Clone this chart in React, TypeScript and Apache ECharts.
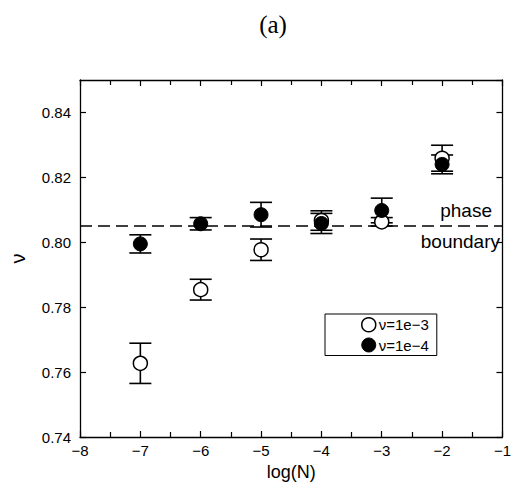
import React, { useEffect, useRef } from "react";
import * as echarts from "echarts";

const logN = [-7, -6, -5, -4, -3, -2];
const nuOpen = [0.7627, 0.7854, 0.7977, 0.8067, 0.8063, 0.8259];
const errOpen = [0.0062, 0.0032, 0.0033, 0.003, 0.0013, 0.004];
const nuFilled = [0.7995, 0.8057, 0.8085, 0.8058, 0.8098, 0.824];
const errFilled = [0.0028, 0.0019, 0.0038, 0.0031, 0.0038, 0.0029];
const boundaryX = [-8, -1];
const boundary = 0.805;
const seriesNames = ["ν=1e−3", "ν=1e−4"];

const FONT = "Liberation Sans, Arial, Helvetica, sans-serif";

function errorData(vals: number[], errs: number[]) {
  return logN.map((x, i) => [x, vals[i] - errs[i], vals[i] + errs[i]]);
}

function renderErr(params: any, api: any) {
  const x = api.value(0);
  const lo = api.coord([x, api.value(1)]);
  const hi = api.coord([x, api.value(2)]);
  const w = 11;
  const style = { stroke: "#000", lineWidth: 1.6, fill: "none" };
  return {
    type: "group",
    children: [
      { type: "line", shape: { x1: hi[0], y1: hi[1], x2: lo[0], y2: lo[1] }, style },
      { type: "line", shape: { x1: hi[0] - w, y1: hi[1], x2: hi[0] + w, y2: hi[1] }, style },
      { type: "line", shape: { x1: lo[0] - w, y1: lo[1], x2: lo[0] + w, y2: lo[1] }, style },
    ],
  };
}

export default function App() {
  const ref = useRef<HTMLDivElement>(null);
  useEffect(() => {
    const chart = echarts.init(ref.current!, undefined, { renderer: "svg" });
    const axisLine = { show: true, lineStyle: { color: "#000", width: 1.3 } };
    const minus = (v: number) => String(v).replace("-", "−");
    const tick = { show: true, inside: true, length: 6, lineStyle: { color: "#000", width: 1.2 } };
    chart.setOption({
      animation: false,
      backgroundColor: "#fff",
      grid: { left: 77, right: 8, top: 80, bottom: 50 },
      legend: {
        orient: "vertical",
        left: 325,
        top: 314,
        selectedMode: false,
        borderColor: "#000",
        borderWidth: 1,
        padding: [3, 8, 3, 36],
        itemGap: 5,
        itemWidth: 14,
        itemHeight: 14,
        textStyle: { fontFamily: FONT, fontSize: 15, color: "#000", padding: [0, 0, 0, -2] },
        data: [
          { name: seriesNames[0], icon: "circle", itemStyle: { color: "#fff", borderColor: "#000", borderWidth: 1.5 } },
          { name: seriesNames[1], icon: "circle", itemStyle: { color: "#000", borderColor: "#000", borderWidth: 1 } },
        ],
      },
      xAxis: [
        {
          type: "value",
          min: -8,
          max: -1,
          interval: 1,
          name: "log(N)",
          nameLocation: "middle",
          nameGap: 22,
          nameTextStyle: { fontFamily: FONT, fontSize: 18, color: "#000" },
          axisLine,
          axisTick: tick,
          minorTick: { show: true, splitNumber: 2, length: 5, lineStyle: { color: "#000", width: 1.2 } },
          axisLabel: { fontFamily: FONT, fontSize: 15, color: "#000", margin: 6, formatter: minus },
          splitLine: { show: false },
        },
        {
          type: "value",
          position: "top",
          min: -8,
          max: -1,
          interval: 1,
          axisLine,
          axisTick: tick,
          minorTick: { show: true, splitNumber: 2, length: 5, lineStyle: { color: "#000", width: 1.2 } },
          axisLabel: { show: false },
          splitLine: { show: false },
        },
      ],
      yAxis: [
        {
          type: "value",
          min: 0.74,
          max: 0.85,
          interval: 0.02,
          name: "ν",
          nameLocation: "middle",
          nameRotate: 90,
          nameGap: 52,
          nameTextStyle: { fontFamily: FONT, fontSize: 20, color: "#000" },
          axisLine,
          axisTick: tick,
          axisLabel: {
            fontFamily: FONT,
            fontSize: 15,
            color: "#000",
            margin: 9,
            showMaxLabel: false,
            formatter: (v: number) => (Math.abs(v - 0.85) < 1e-6 ? "" : v.toFixed(2)),
          },
          splitLine: { show: false },
        },
        {
          type: "value",
          position: "right",
          min: 0.74,
          max: 0.85,
          interval: 0.02,
          axisLine,
          axisTick: tick,
          axisLabel: { show: false },
          splitLine: { show: false },
        },
      ],
      graphic: [
        {
          type: "text",
          x: 273,
          y: 12,
          style: {
            text: "(a)",
            align: "center",
            verticalAlign: "top",
            fontFamily: "Liberation Serif, DejaVu Serif, serif",
            fontSize: 25,
            fill: "#000",
          },
        },
        {
          type: "text",
          x: 492,
          y: 210,
          style: { text: "phase", align: "right", verticalAlign: "middle", fontFamily: FONT, fontSize: 19, fill: "#000" },
        },
        {
          type: "text",
          x: 500,
          y: 241,
          style: { text: "boundary", align: "right", verticalAlign: "middle", fontFamily: FONT, fontSize: 19, fill: "#000" },
        },
      ],
      series: [
        {
          type: "line",
          name: "boundary",
          data: boundaryX.map((x) => [x, boundary]),
          symbol: "none",
          silent: true,
          lineStyle: { color: "#000", width: 1.6, type: [12, 6] },
          z: 0,
        },
        {
          type: "custom",
          name: "errOpen",
          renderItem: renderErr,
          data: errorData(nuOpen, errOpen),
          z: 1,
          silent: true,
        },
        {
          type: "custom",
          name: "errFilled",
          renderItem: renderErr,
          data: errorData(nuFilled, errFilled),
          z: 1,
          silent: true,
        },
        {
          type: "scatter",
          name: seriesNames[0],
          symbol: "circle",
          symbolSize: 14,
          itemStyle: { color: "#fff", borderColor: "#000", borderWidth: 1.5, opacity: 1 },
          data: logN.map((x, i) => [x, nuOpen[i]]),
          z: 3,
        },
        {
          type: "scatter",
          name: seriesNames[1],
          symbol: "circle",
          symbolSize: 14,
          itemStyle: { color: "#000", borderColor: "#000", borderWidth: 1, opacity: 1 },
          data: logN.map((x, i) => [x, nuFilled[i]]),
          z: 4,
        },
      ],
    });
    return () => chart.dispose();
  }, []);
  return (
    <div
      ref={ref}
      style={{ position: "fixed", left: 0, top: 0, width: 514, height: 487, background: "#fff" }}
    />
  );
}
